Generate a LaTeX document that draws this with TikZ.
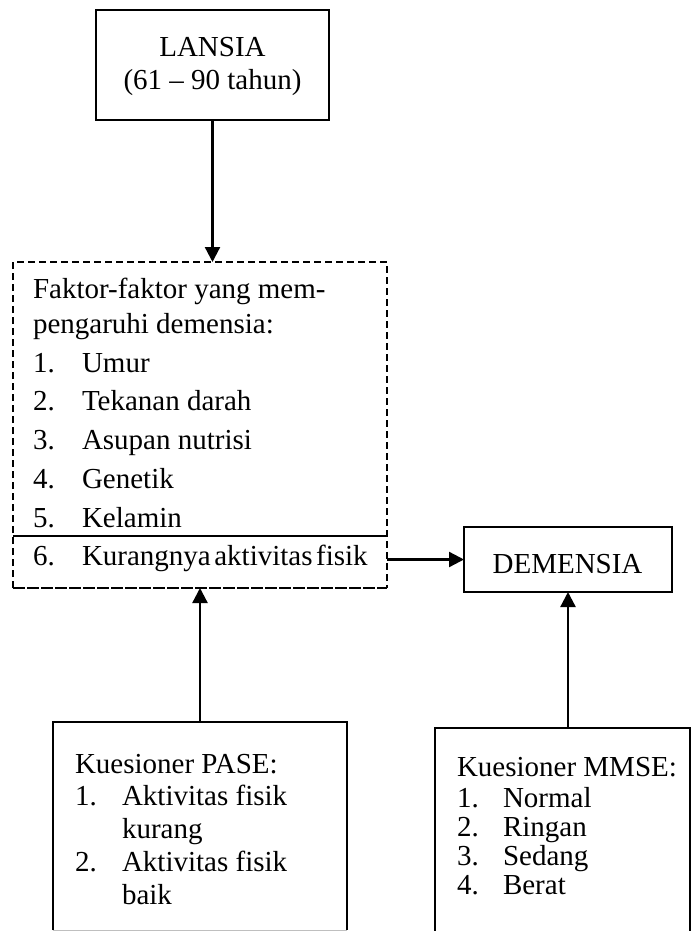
\documentclass[tikz,border=0pt]{standalone}
\usepackage{fontspec}
\setmainfont{Liberation Serif}
\usetikzlibrary{arrows.meta}
\begin{document}
\begin{tikzpicture}[x=1pt,y=-1pt,
  every node/.style={inner sep=0pt,outer sep=0pt},
  txt/.style={anchor=base west,font=\fontsize{29}{34}\selectfont},
  ctxt/.style={anchor=base,font=\fontsize{29}{34}\selectfont},
  boxline/.style={line width=2.2pt},
  arr/.style={line width=2.3pt,-{Triangle[length=15pt,width=15pt]}},
  dashline/.style={line width=1.8pt,dash pattern=on 7pt off 4pt}]
\useasboundingbox (0,0) rectangle (691,931);
\clip (0,0) rectangle (691,931);
\fill[white] (0,0) rectangle (691,931);

% LANSIA
\node[draw,boxline,minimum width=233pt,minimum height=110pt] (lansia) at (212.5,65) {};
\node[ctxt] (lansiaA) at (212.5,57) {LANSIA};
\node[ctxt] (lansiaB) at (212.5,90) {(61 – 90 tahun)};

% Faktor box
\node[minimum width=374pt,minimum height=326pt] (fak) at (200,425) {};
\draw[dashline] (fak.south west) -- (fak.north west) -- (fak.north east) -- (fak.south east);
\draw[line width=1.8pt,dash pattern=on 12pt off 2pt] (fak.south west) -- (fak.south east);
\coordinate (sep) at (0,536);
\draw[boxline] (fak.west |- sep) -- (fak.east |- sep);
\node[txt] (f0) at (33,298) {Faktor-faktor yang mem-};
\node[txt] (f00) at (33,333) {pengaruhi demensia:};
\node[txt] (n1) at (33,372) {1.};  \node[txt] (t1) at (82,372) {Umur};
\node[txt] (n2) at (33,410) {2.};  \node[txt] (t2) at (82,410) {Tekanan darah};
\node[txt] (n3) at (33,449) {3.};  \node[txt] (t3) at (82,449) {Asupan nutrisi};
\node[txt] (n4) at (33,488) {4.};  \node[txt] (t4) at (82,488) {Genetik};
\node[txt] (n5) at (33,527) {5.};  \node[txt] (t5) at (82,527) {Kelamin};
\node[txt] (n6) at (33,565) {6.};  \node[txt] (t6) at (82,565) {Kurangnya\hspace{3.5pt}aktivitas\hspace{3.5pt}fisik};

% DEMENSIA
\node[draw,boxline,minimum width=208pt,minimum height=65pt] (dem) at (568,559.5) {};
\node[ctxt] (demT) at (567.5,573) {DEMENSIA};

% PASE
\node[minimum width=294pt,minimum height=208pt] (pase) at (200,826) {};
\draw[boxline] (pase.south west) -- (pase.north west) -- (pase.north east) -- (pase.south east);
\draw[line width=1pt,black!25] (pase.south west) -- (pase.south east);
\node[txt] (p0) at (75,773) {Kuesioner PASE:};
\node[txt] (pn1) at (75,805) {1.}; \node[txt] (pt1) at (122,805) {Aktivitas fisik};
\node[txt] (pt1b) at (122,838) {kurang};
\node[txt] (pn2) at (75,871) {2.}; \node[txt] (pt2) at (122,871) {Aktivitas fisik};
\node[txt] (pt2b) at (122,904) {baik};

% MMSE
\node[minimum width=255pt,minimum height=220pt] (mmse) at (562.5,838) {};
\draw[boxline] (mmse.south west) -- (mmse.north west) -- (mmse.north east) -- (mmse.south east);
\node[txt] (m0) at (457,776) {Kuesioner MMSE:};
\node[txt] (mn1) at (457,807) {1.}; \node[txt] (mt1) at (503,807) {Normal};
\node[txt] (mn2) at (457,836) {2.}; \node[txt] (mt2) at (503,836) {Ringan};
\node[txt] (mn3) at (457,865) {3.}; \node[txt] (mt3) at (503,865) {Sedang};
\node[txt] (mn4) at (457,894) {4.}; \node[txt] (mt4) at (503,894) {Berat};

% connectors
\draw[arr] (lansia.south) -- (lansia.south |- fak.north);
\draw[arr] (pase.north) -- (pase.north |- fak.south);
\draw[arr] (dem.west -| fak.east) -- (dem.west);
\draw[arr] (dem.south |- mmse.north) -- (dem.south);
\end{tikzpicture}
\end{document}
